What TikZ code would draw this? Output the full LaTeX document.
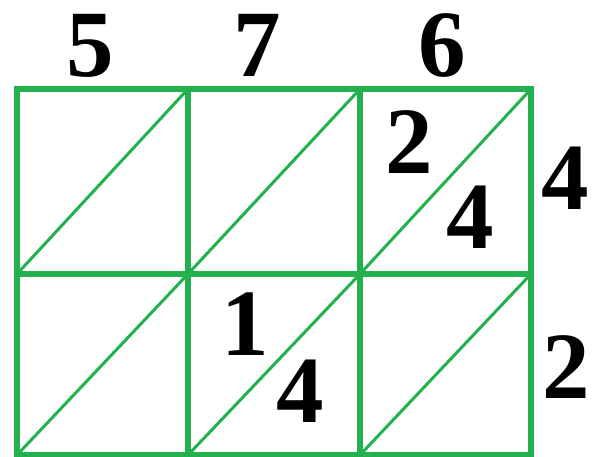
\documentclass[tikz,border=0pt]{standalone}
\usepackage{fontspec}
\setmainfont{Liberation Serif}
\usepackage{xcolor}
\usetikzlibrary{positioning}
\definecolor{gridgreen}{RGB}{34,177,76}

\begin{document}
\begin{tikzpicture}[
    x=1pt, y=-1pt,
    grid/.style={draw=gridgreen, line width=5.5pt},
    diag/.style={draw=gridgreen, line width=3pt},
    digit/.style={anchor=base, inner sep=0pt, font=\fontsize{95}{95}\selectfont\bfseries}
]
\useasboundingbox (0,0) rectangle (592,457);

% corners of the lattice
\coordinate (a0) at (17,89);  \coordinate (a1) at (188,89);
\coordinate (a2) at (360,89); \coordinate (a3) at (531,89);
\coordinate (b0) at (17,274);  \coordinate (b1) at (188,274);
\coordinate (b2) at (360,274); \coordinate (b3) at (531,274);
\coordinate (c0) at (17,455);  \coordinate (c1) at (188,455);
\coordinate (c2) at (360,455); \coordinate (c3) at (531,455);

\foreach \i/\j in {0/1,1/2,2/3} {
    \draw[diag] (b\i) -- (a\j);
    \draw[diag] (c\i) -- (b\j);
}
\draw[grid] (a0) rectangle (c3);
\draw[grid] (b0) -- (b3);
\draw[grid] (a1) -- (c1);
\draw[grid] (a2) -- (c2);

% factors
\node[digit] (top5) at (90,77) {5};
\node[digit] (top7) at (257,77) {7};
\node[digit] (top6) at (442,77) {6};
\node[digit] (side4) at (565,210) {4};
\node[digit] (side2) at (566,398) {2};

% partial products
\node[digit] (p2) at (409,174) {2};
\node[digit] (p4) at (470,249) {4};
\node[digit] (q1) at (245,355) {1};
\node[digit] (q4) at (300,422) {4};
\end{tikzpicture}
\end{document}
